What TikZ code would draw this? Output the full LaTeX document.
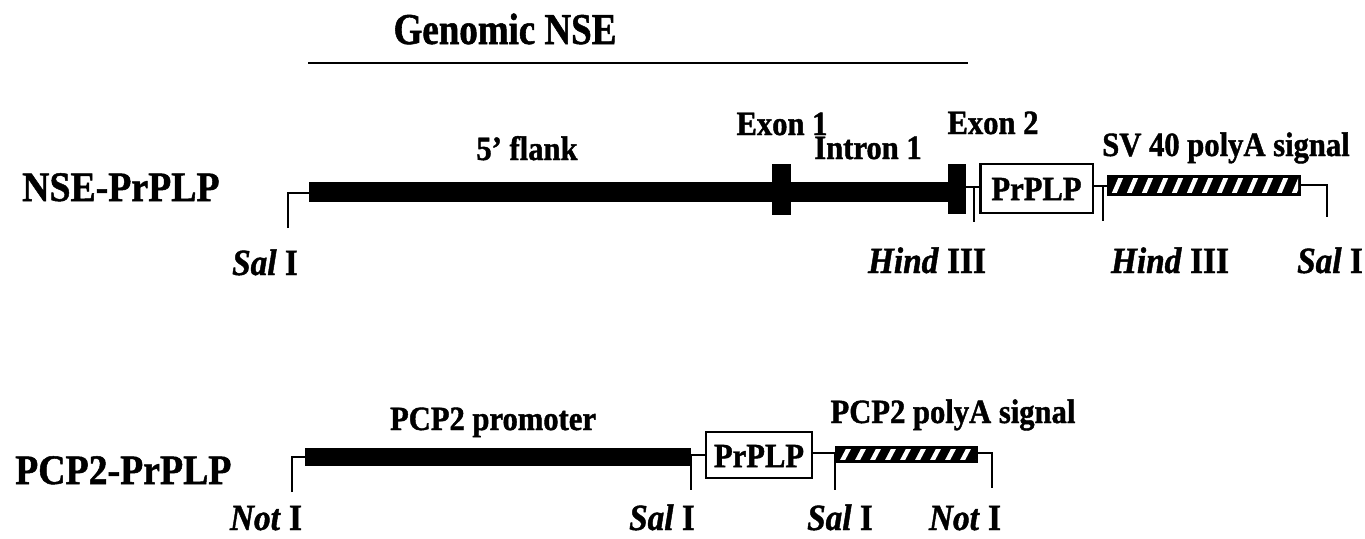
\documentclass[tikz,border=0pt]{standalone}
\usepackage{fontspec}
\setmainfont{Liberation Serif}[FakeStretch=0.9,
  BoldFeatures={FakeBold=1.2}, BoldItalicFeatures={FakeBold=1.2}]
\newfontfamily\titlefont{Liberation Serif}[FakeStretch=0.84,
  BoldFeatures={FakeBold=1.2}]
\newcommand\myhatch[4]{%
  \fill[black] (#1,#2) rectangle (#3,#4);
  \begin{scope}
    \clip (#1+3,#2+3.5) rectangle (#3-3,#4-3.5);
    \foreach \i in {0,...,14} {
      \draw[white,line width=4.5pt] ({#1+6+15*\i},#4) -- ({#1+6+15*\i+9},#2);
    }
  \end{scope}}
\begin{document}
\begin{tikzpicture}[x=1pt,y=-1pt,
  wire/.style={line width=2pt},
  insert/.style={draw,line width=2.5pt,fill=white},
  lbl/.style={font=\fontsize{34}{34}\selectfont\bfseries,inner sep=0,anchor=base},
  site/.style={font=\fontsize{37}{37}\selectfont\bfseries,inner sep=0,anchor=base},
  rowlbl/.style={font=\fontsize{42}{42}\selectfont\bfseries,inner sep=0,anchor=base west},
  boxtxt/.style={font=\fontsize{34}{34}\selectfont\bfseries,inner sep=0},
]
\useasboundingbox (0,0) rectangle (1365,538);

% ---- title ----
\node[inner sep=0,anchor=base,font=\titlefont\fontsize{44}{44}\selectfont\bfseries] (title) at (505,44) {Genomic NSE};
\draw[line width=2.5pt] (308,63) -- (968,63);

% ---- NSE-PrPLP ----
\node[rowlbl] (r1) at (22,201) {NSE-PrPLP};
\draw[wire] (288,228) -- (288,193) -- (310,193);
\fill (309,182) rectangle (948,202);
\fill (772,164) rectangle (791,215);
\fill (948,164) rectangle (966,214);
\draw[wire] (966,187) -- (981,187);
\draw[wire] (974,187) -- (974,222);
\draw[insert] (980.5,164) rectangle (1093,213);
\node[boxtxt] (p1) at (1036.5,189) {PrPLP};
\draw[wire] (1093,186) -- (1108,186);
\draw[wire] (1103,186) -- (1103,221);
\myhatch{1107}{175}{1301}{196}
\draw[wire] (1300,185) -- (1327,185) -- (1327,217);

\node[lbl] (flank) at (527,160) {5’ flank};
\node[lbl] (ex1) at (782,135) {Exon 1};
\node[lbl] (in1) at (868,159) {Intron 1};
\node[lbl] (ex2) at (993,134) {Exon 2};
\node[lbl] (sv) at (1226,156) {SV 40 polyA signal};

\node[site] (s1) at (265,275) {\textit{Sal} I};
\node[site] (h1) at (927,273) {\textit{Hind} III};
\node[site] (h2) at (1170,273) {\textit{Hind} III};
\node[site] (s2) at (1330,273) {\textit{Sal} I};

% ---- PCP2-PrPLP ----
\node[rowlbl] (r2) at (15,484) {PCP2-PrPLP};
\draw[wire] (292,492) -- (292,457) -- (306,457);
\fill (305,448) rectangle (691,466);
\draw[wire] (690,455) -- (707,455);
\draw[wire] (691,455) -- (691,490);
\draw[insert] (706,432) rectangle (812,478);
\node[boxtxt] (p2) at (759,456) {PrPLP};
\draw[wire] (812,453) -- (836,453);
\draw[wire] (835,453) -- (835,490);
\myhatch{835}{446}{978}{463}
\draw[wire] (977,453) -- (992,453) -- (992,488);

\node[lbl] (prom) at (493,430) {PCP2 promoter};
\node[lbl] (pa2) at (953,423) {PCP2 polyA signal};

\node[site] (n1) at (266,530) {\textit{Not} I};
\node[site] (s3) at (662,530) {\textit{Sal} I};
\node[site] (s4) at (840,530) {\textit{Sal} I};
\node[site] (n2) at (965,530) {\textit{Not} I};
\end{tikzpicture}
\end{document}
